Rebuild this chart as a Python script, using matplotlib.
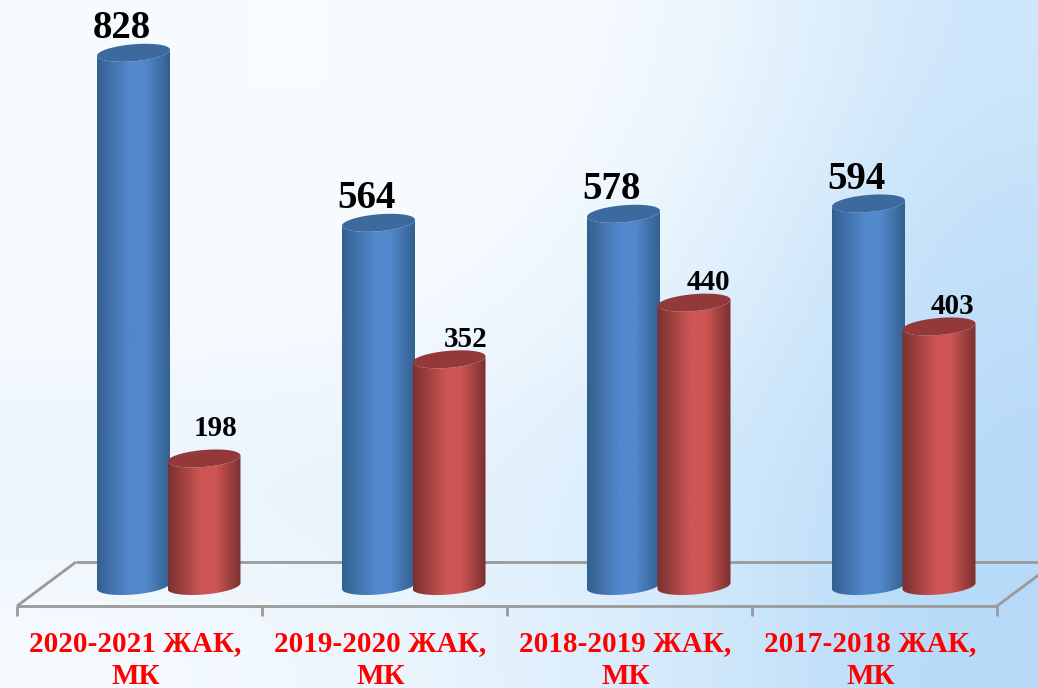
#!/usr/bin/env python3
"""3D-look cylinder bars, two per academic year, on a pale blue slide background."""
import numpy as np
import matplotlib
matplotlib.use("Agg")
import matplotlib.pyplot as plt
from matplotlib.colors import LinearSegmentedColormap, to_rgb
from matplotlib.patches import Polygon

plt.rcParams["font.family"] = ["Liberation Serif", "DejaVu Serif"]

CATEGORIES = ["2020-2021 ЖАК,\nМК", "2019-2020 ЖАК,\nМК",
              "2018-2019 ЖАК,\nМК", "2017-2018 ЖАК,\nМК"]
BLUE_VALUES = [828, 564, 578, 594]
RED_VALUES = [198, 352, 440, 403]

W, H = 1038, 688
PX_PER_UNIT = 0.644    # vertical scale
PX_PER_GROUP = 245.0
ZERO_PX = 586          # image row of value 0
FIRST_GROUP_PX = 139.5

BAR_W = 73 / PX_PER_GROUP
RY = 8.5 / PX_PER_UNIT     # ellipse half height
TILT = 3.0 / PX_PER_UNIT   # right rim sits above the left rim

BLUE = dict(edge="#33608f", mid="#5288cc", top="#3c6a9f")
RED = dict(edge="#7a302f", mid="#cd5553", top="#94393a")

# nudges for the small labels, the reference is not regular here
RED_LABEL_DX = [11, 17, 14, 13]

BG_ROWS = [
    ["#f6fbff", "#f9fcff", "#f9fcff", "#eef7fe", "#cde6fb"],
    ["#f7fbff", "#f9fcff", "#f7fbff", "#e6f3fd", "#c2e0f9"],
    ["#f6fbff", "#f6fbff", "#eff7fe", "#dbeefc", "#bcdcf8"],
    ["#e8f3fb", "#e8f3fc", "#e3f1fc", "#cfe7fa", "#b7daf8"],
    ["#f6fbff", "#f1f8fe", "#e4f2fd", "#d0e8fb", "#b4d9f7"],
]


def rim(xc, yc, half=True):
    # lower half of the tilted ellipse, left to right
    t = np.linspace(np.pi, 2 * np.pi, 60) if half else np.linspace(0, 2 * np.pi, 120)
    return np.column_stack([xc + BAR_W / 2 * np.cos(t),
                            yc + RY * np.sin(t) + TILT * np.cos(t)])


def cylinder(ax, xc, value, colors, z):
    cmap = LinearSegmentedColormap.from_list(
        "body", [(0, colors["edge"]), (0.45, colors["mid"]), (0.66, colors["mid"]), (1, colors["edge"])])
    low = rim(xc, 0)
    high = rim(xc, value)[::-1]
    body = Polygon(np.vstack([low, high]), closed=True, transform=ax.transData,
                   facecolor="none", edgecolor="none", zorder=z)
    ax.add_patch(body)
    im = ax.imshow(np.linspace(0, 1, 256)[None, :], cmap=cmap, aspect="auto", zorder=z,
                   extent=(xc - BAR_W / 2, xc + BAR_W / 2, -RY * 2, value + RY * 2))
    im.set_clip_path(body)
    ax.add_patch(Polygon(rim(xc, value, half=False), closed=True, facecolor=colors["top"],
                         edgecolor="none", zorder=z + 0.1))


fig = plt.figure(figsize=(W / 100, H / 100), dpi=100)

bg = fig.add_axes([0, 0, 1, 1], zorder=0)
bg.imshow([[to_rgb(c) for c in row] for row in BG_ROWS], aspect="auto", interpolation="bicubic")
bg.axis("off")

ax = fig.add_axes([0, 0, 1, 1], zorder=1)
ax.patch.set_alpha(0)

group_x = np.arange(len(CATEGORIES))
blue_x = group_x - 6 / PX_PER_GROUP
red_x = group_x + 64.5 / PX_PER_GROUP

# floor of the 3D box
edges = np.arange(len(CATEGORIES) + 1) - 0.5
front, back, depth = -20 / PX_PER_UNIT, 24 / PX_PER_UNIT, 59 / PX_PER_GROUP
grey = dict(color="#9a9a9a", lw=2.0, solid_capstyle="butt", zorder=2)
ax.plot([edges[0], edges[-1]], [front, front], **grey)
ax.plot([edges[0] + depth, edges[-1] + depth], [back, back], **grey)
ax.plot([edges[0], edges[0] + depth], [front, back], **grey)
ax.plot([edges[-1], edges[-1] + depth], [front, back], **grey)
for e in edges:
    ax.plot([e, e], [front, front - 10 / PX_PER_UNIT], **grey)

for i in group_x:
    cylinder(ax, blue_x[i], BLUE_VALUES[i], BLUE, 3)
    cylinder(ax, red_x[i], RED_VALUES[i], RED, 4)
    ax.annotate(str(BLUE_VALUES[i]), (blue_x[i], BLUE_VALUES[i]), xytext=(-12, 24),
                textcoords="offset pixels", ha="center", va="center",
                fontsize=28, fontweight="bold", color="black", zorder=6)
    lift = 30 if i == 0 else 20
    ax.annotate(str(RED_VALUES[i]), (red_x[i], RED_VALUES[i]), xytext=(RED_LABEL_DX[i], lift),
                textcoords="offset pixels", ha="center", va="center",
                fontsize=21, fontweight="bold", color="black", zorder=6)
    ax.annotate(CATEGORIES[i], (i, front), xytext=(-4, -24), textcoords="offset pixels",
                ha="center", va="top", fontsize=21, fontweight="bold", color="#ff0000",
                linespacing=1.28, annotation_clip=False, zorder=6)

ax.set_xlim(-FIRST_GROUP_PX / PX_PER_GROUP, (W - FIRST_GROUP_PX) / PX_PER_GROUP)
ax.set_ylim(-(H - ZERO_PX) / PX_PER_UNIT, ZERO_PX / PX_PER_UNIT)
ax.axis("off")

fig.savefig("out.png", dpi=100)
